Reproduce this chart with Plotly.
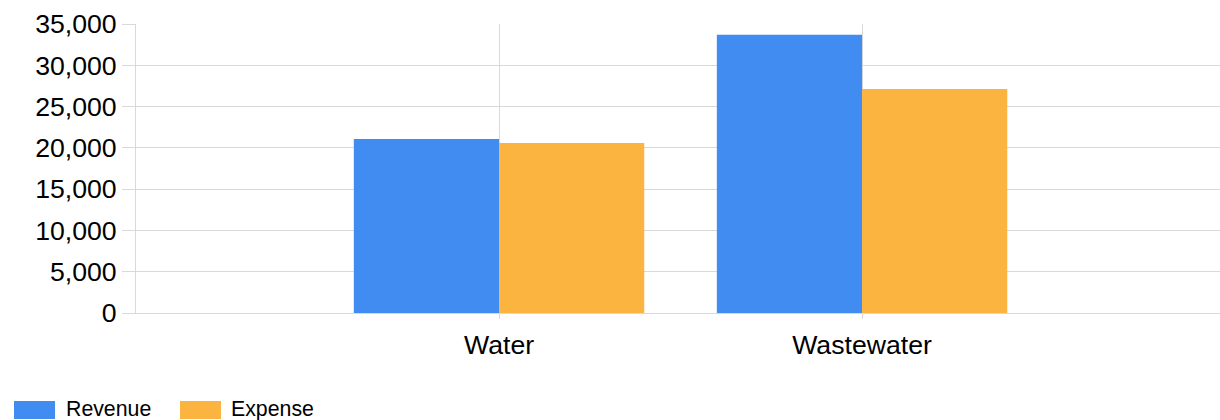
import plotly.graph_objects as go

categories = ["Water", "Wastewater"]
revenue = [21070, 33700]
expense = [20590, 27130]
series_names = ["Revenue", "Expense"]
series_colors = ["#418CF0", "#FCB441"]
y_ticks = [0, 5000, 10000, 15000, 20000, 25000, 30000, 35000]

W, H = 1220, 420
L, R, T, B = 136, 0, 24, 107
PW, PH = W - L - R, H - T - B
FONT = "Liberation Sans, Arial, sans-serif"
GRID = "#d9d9d9"

def px(x):
    return (x - L) / PW

def py(y):
    return (H - B - y) / PH

fig = go.Figure()
for name, vals, col in zip(series_names, [revenue, expense], series_colors):
    fig.add_trace(go.Bar(x=categories, y=vals, name=name,
                         marker=dict(color=col, line=dict(width=0)),
                         showlegend=False))

# custom legend (large swatches like the reference)
legend_items = [(14, 55, 64), (180, 221, 229)]
for (x0, x1, tx), name, col in zip(legend_items, series_names, series_colors):
    fig.add_shape(type="rect", xref="paper", yref="paper",
                  x0=px(x0), x1=px(x1), y0=py(419), y1=py(401),
                  fillcolor=col, line=dict(width=0))
    fig.add_annotation(xref="paper", yref="paper", x=px(tx), y=py(409),
                       text=name, showarrow=False, xanchor="left", yanchor="middle",
                       font=dict(family=FONT, size=21.3, color="#000000"))

fig.update_layout(
    width=W, height=H,
    margin=dict(l=L, r=R, t=T, b=B, pad=0),
    paper_bgcolor="white", plot_bgcolor="white",
    barmode="group", bargap=0.2, bargroupgap=0,
    font=dict(family=FONT, color="#000000"),
)
fig.update_xaxes(type="category", range=[-1, 1.986],
                 showgrid=True, gridcolor=GRID, gridwidth=1,
                 showline=True, linecolor=GRID, linewidth=1,
                 ticks="outside", ticklen=5, tickcolor=GRID,
                 ticklabelstandoff=3,
                 tickfont=dict(family=FONT, size=26.67, color="#000000"),
                 zeroline=False)
fig.update_yaxes(range=[0, 35000], tickvals=y_ticks, tickformat=",",
                 showgrid=True, gridcolor=GRID, gridwidth=1,
                 showline=True, linecolor=GRID, linewidth=1,
                 ticks="outside", ticklen=13, tickcolor=GRID,
                 tickfont=dict(family=FONT, size=26.67, color="#000000"),
                 zeroline=False)

fig.write_html("out.html",
               config={"displayModeBar": False},
               post_script="document.body.style.margin='0';document.body.style.overflow='hidden';")
